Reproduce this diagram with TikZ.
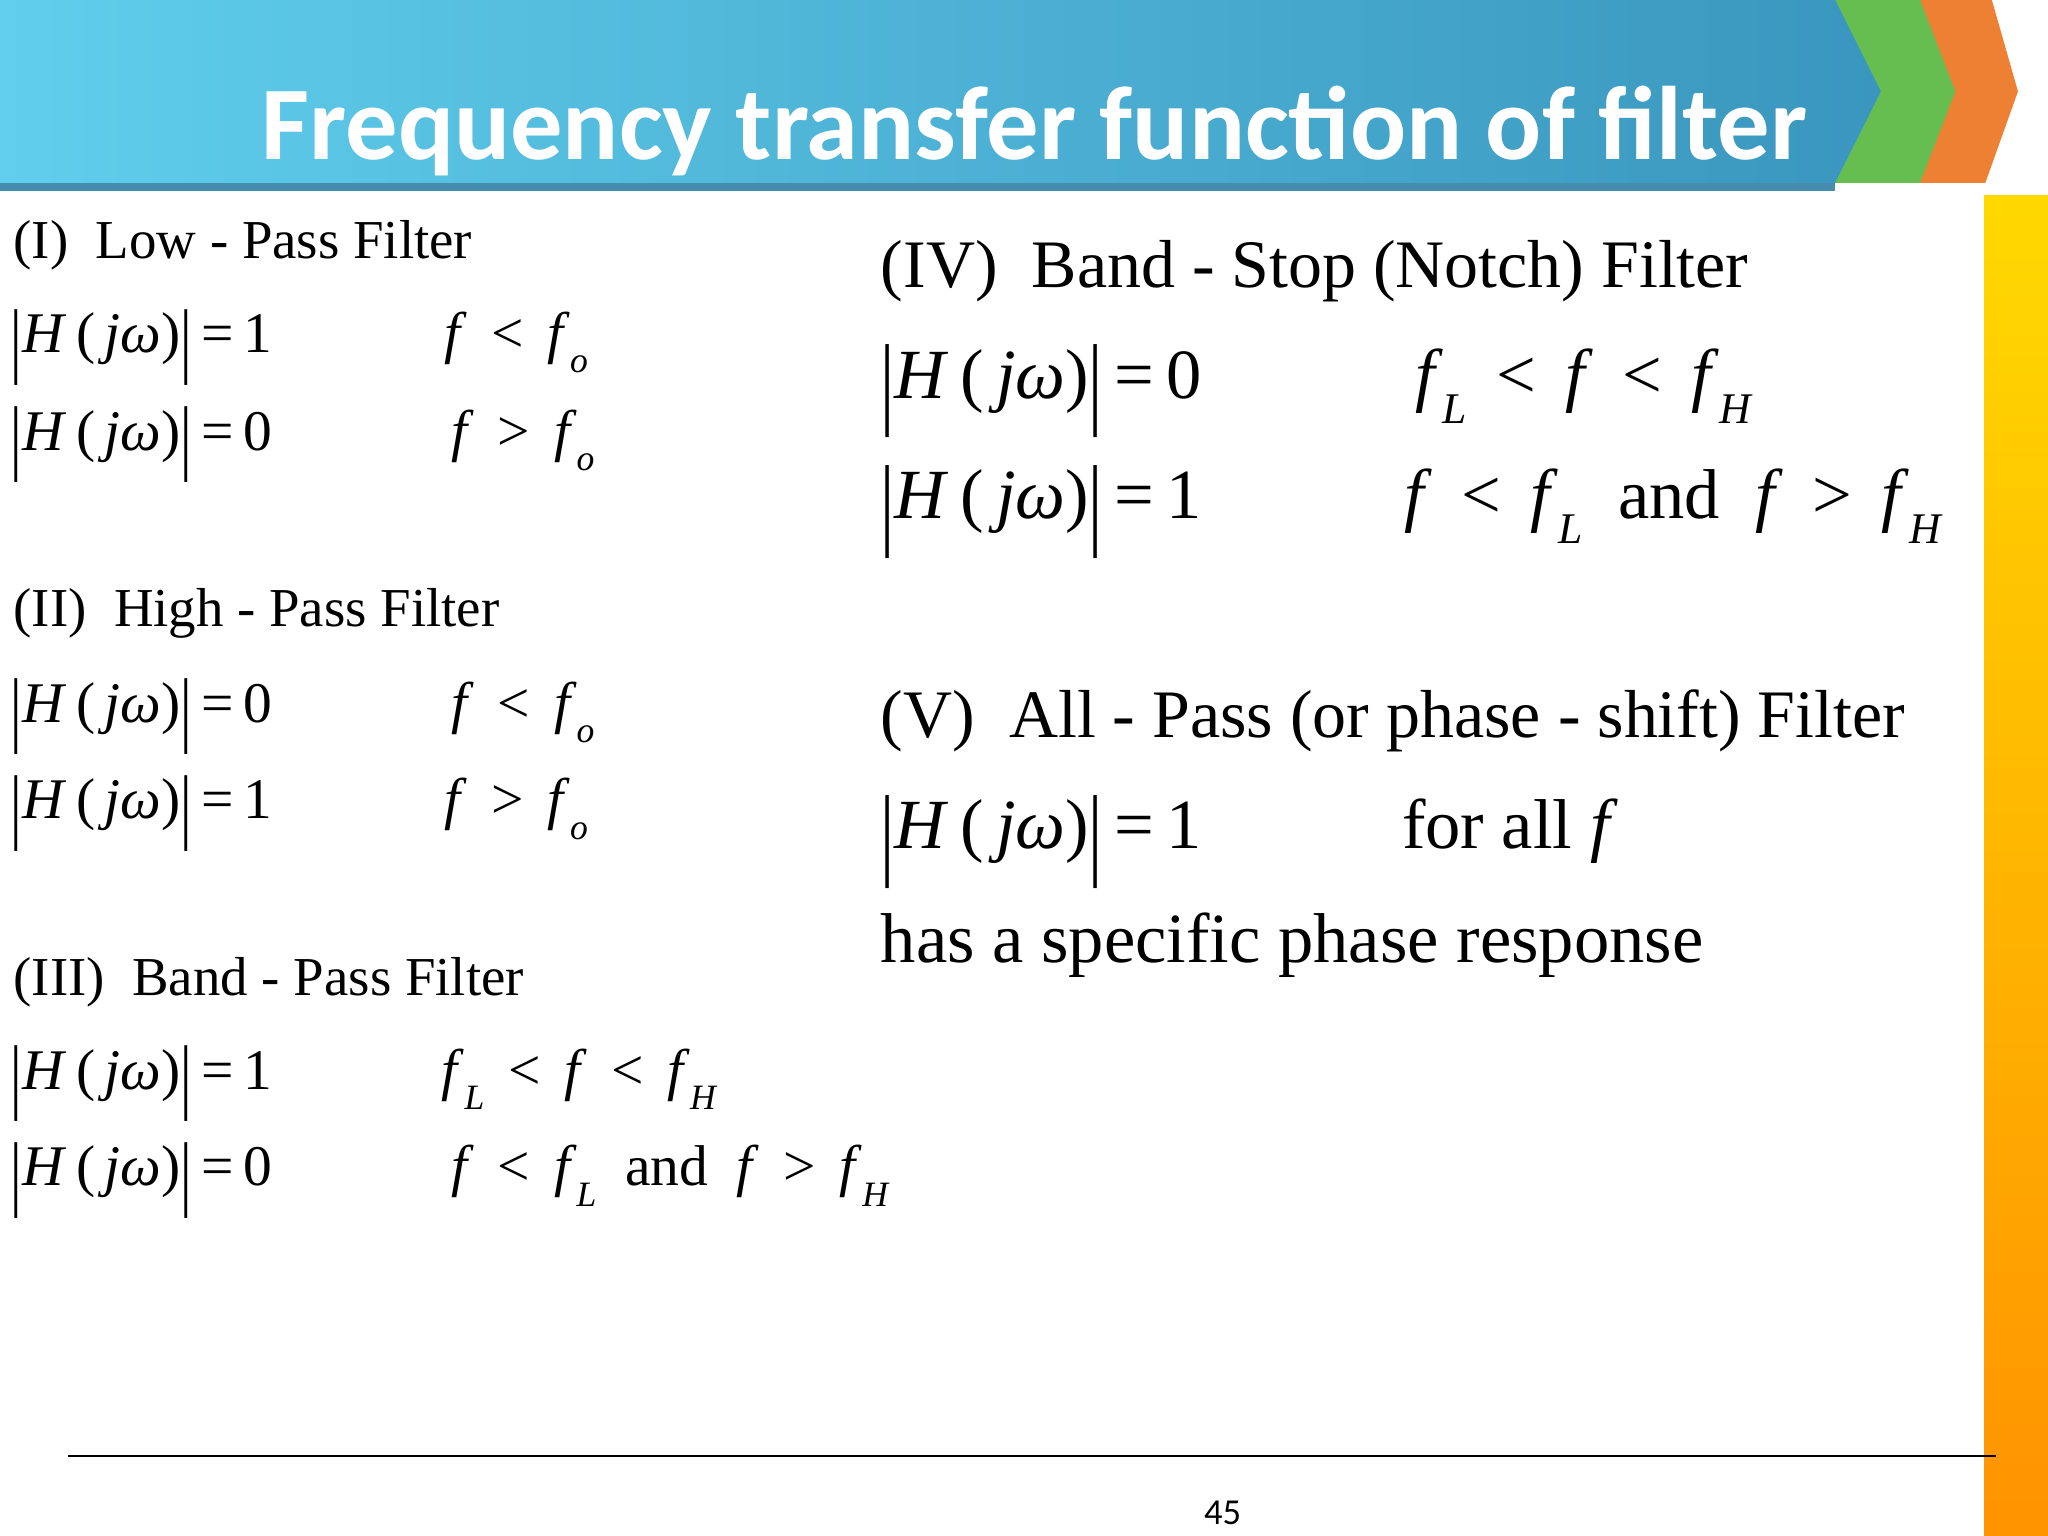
\documentclass[tikz,border=0pt]{standalone}
\usepackage{fontspec}
\setmainfont{Liberation Serif}
\newfontfamily\titlefont{Carlito}
\definecolor{bandL}{RGB}{96,206,236}
\definecolor{bandR}{RGB}{58,150,190}
\definecolor{bandD}{RGB}{70,140,175}
\definecolor{chevG}{RGB}{102,190,80}
\definecolor{chevO}{RGB}{238,128,52}
\newcommand{\sbx}[1]{\raisebox{-0.35em}{\scalebox{0.62}{\textit{#1}}}}
\newcommand{\vb}{\raisebox{-0.25em}{\scalebox{1}[1.45]{|}}}
\newcommand{\Hj}{\vb\textit{H}\,(\,\textit{jω})\vb\,=\,}
\begin{document}
\begin{tikzpicture}[x=0.5pt,y=-0.5pt,inner sep=0pt,
  lh/.style={anchor=base west,font=\fontsize{21}{24}\selectfont},
  le/.style={anchor=base west,font=\fontsize{22}{25}\selectfont},
  rh/.style={anchor=base west,font=\fontsize{26}{30}\selectfont},
  re/.style={anchor=base west,font=\fontsize{27}{32}\selectfont}]
\useasboundingbox (0,0) rectangle (1568,1176);
\fill[white] (0,0) rectangle (1568,1176);
\shade[top color=yellow!70!orange, bottom color=orange!85!yellow] (1519,150) rectangle (1568,1176);
\fill[chevO] (1455,0) -- (1525,0) -- (1545,70) -- (1520,140) -- (1455,140) -- (1480,70) -- cycle;
\fill[chevG] (1395,0) -- (1470,0) -- (1497,70) -- (1470,140) -- (1395,140) -- (1420,70) -- cycle;
\shade[left color=bandL, right color=bandR]
  (0,0) -- (1405,0) -- (1440,70) -- (1405,140) -- (0,140) -- cycle;
\fill[bandD] (0,140) rectangle (1405,146);
\node[anchor=base west,text=white,font=\titlefont\bfseries\fontsize{40}{44}\selectfont] (title) at (200,122) {Frequency transfer function of filter};
\node[lh] (h1) at (10,198) {(I)\ \ Low - Pass Filter};
\node[le] (a1) at (8,270) {\Hj 1};
\node[le] (b1) at (340,270) {\textit{f} \,<\, \textit{f}\sbx{o}};
\node[le] (a2) at (8,345) {\Hj 0};
\node[le] (b2) at (345,345) {\textit{f} \,>\, \textit{f}\sbx{o}};
\node[lh] (h2) at (10,480) {(II)\ \ High - Pass Filter};
\node[le] (a3) at (8,553) {\Hj 0};
\node[le] (b3) at (345,553) {\textit{f} \,<\, \textit{f}\sbx{o}};
\node[le] (a4) at (8,627) {\Hj 1};
\node[le] (b4) at (340,627) {\textit{f} \,>\, \textit{f}\sbx{o}};
\node[lh] (h3) at (10,762) {(III)\ \ Band - Pass Filter};
\node[le] (a5) at (8,834) {\Hj 1};
\node[le] (b5) at (338,834) {\textit{f}\sbx{L} \,<\, \textit{f} \,<\, \textit{f}\sbx{H}};
\node[le] (a6) at (8,908) {\Hj 0};
\node[le] (b6) at (345,908) {\textit{f} \,<\, \textit{f}\sbx{L}\ \ and\ \ \textit{f} \,>\, \textit{f}\sbx{H}};
\node[rh] (h4) at (674,220) {(IV)\ \ Band - Stop (Notch) Filter};
\node[re] (c1) at (674,305) {\Hj 0};
\node[re] (d1) at (1083,305) {\textit{f}\sbx{L} \,<\, \textit{f} \,<\, \textit{f}\sbx{H}};
\node[re] (c2) at (674,397) {\Hj 1};
\node[re] (d2) at (1075,397) {\textit{f} \,<\, \textit{f}\sbx{L}\ \ and\ \ \textit{f} \,>\, \textit{f}\sbx{H}};
\node[rh] (h5) at (674,565) {(V)\ \ All - Pass (or phase - shift) Filter};
\node[re] (c3) at (674,650) {\Hj 1};
\node[re] (d3) at (1073,650) {for all \textit{f}};
\node[re] (c4) at (674,737) {has a specific phase response};
\coordinate (l1) at (52,1115); \coordinate (l2) at (1528,1115);
\draw[line width=0.8pt] (l1) -- (l2);
\node[font=\titlefont\fontsize{14}{16}\selectfont] (pg) at (936,1158) {45};
\end{tikzpicture}
\end{document}
